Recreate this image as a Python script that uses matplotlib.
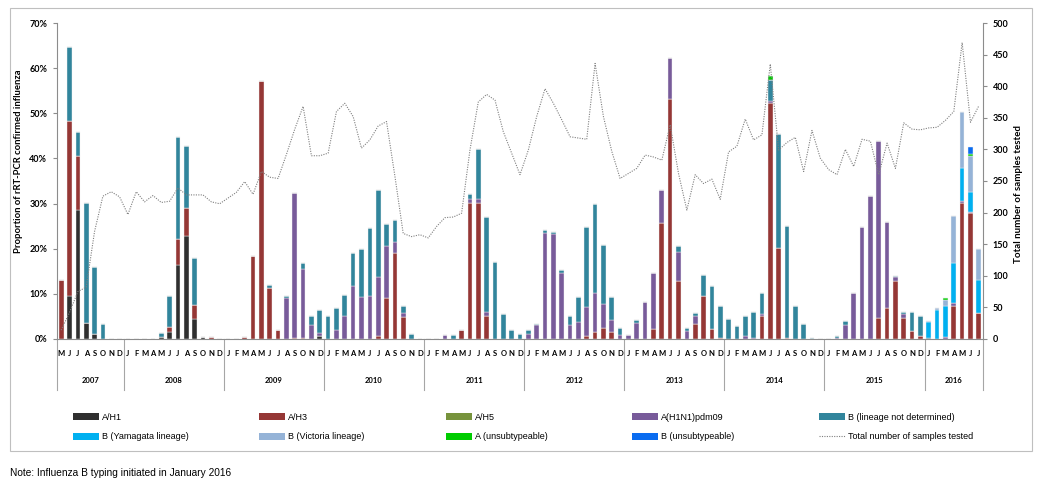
import numpy as np
import matplotlib.pyplot as plt
import matplotlib.transforms as mtransforms
from matplotlib.ticker import FuncFormatter, MultipleLocator
from matplotlib.patches import Patch, Rectangle
from matplotlib.lines import Line2D

plt.rcParams['font.family'] = ['Lato', 'DejaVu Sans']
narrow = ['Liberation Sans Narrow', 'Liberation Sans', 'DejaVu Sans']

# categories: May 2007 .. Jul 2016
year_labels = ['2007', '2008', '2009', '2010', '2011', '2012', '2013', '2014', '2015', '2016']
year_months = ['MJJASOND', 'JFMAMJJASOND', 'JFMAMJJASOND', 'JFMAMJJASOND', 'JFMAMJJASOND',
               'JFMAMJJASOND', 'JFMAMJJASOND', 'JFMAMJJASOND', 'JFMAMJJASOND', 'JFMAMJJ']

# proportion (%) per type, one value per month
a_h1 = [0, 9.6, 28.5, 3.6, 1.1, 0, 0, 0,                          # 2007
        0, 0, 0, 0, 0.5, 1.6, 16.3, 22.9, 4.4, 0.5, 0, 0,            # 2008
        0, 0, 0, 0, 0, 0, 0, 0, 0, 0, 0, 0.6,                        # 2009
        0, 0, 0, 0, 0, 0, 0, 0, 0, 0, 0, 0,                          # 2010
        0, 0, 0, 0, 0, 0, 0, 0, 0, 0, 0, 0,                          # 2011
        0, 0, 0, 0, 0, 0, 0, 0, 0, 0, 0, 0,                          # 2012
        0, 0, 0, 0, 0, 0, 0, 0, 0, 0, 0, 0,                          # 2013
        0, 0, 0, 0, 0, 0, 0, 0, 0, 0, 0, 0,                          # 2014
        0, 0, 0, 0, 0, 0, 0, 0, 0, 0, 0, 0,                          # 2015
        0, 0, 0, 0, 0, 0, 0]                                         # 2016
a_h3 = [13.1, 38.8, 12.1, 0, 0, 0, 0, 0,
        0, 0, 0, 0, 0, 1.0, 5.8, 6.2, 3.1, 0, 0.5, 0,
        0, 0, 0.4, 18.3, 57.1, 11.4, 2.0, 0, 0.3, 0.3, 0, 0,
        0, 0, 0, 0, 0, 0, 0.7, 9.0, 19.0, 4.8, 0, 0,
        0, 0, 0, 0, 2.0, 30.1, 30.1, 5.0, 0, 0, 0, 0,
        0, 0, 0, 0, 0, 0, 0, 0.7, 1.5, 2.4, 1.5, 0,
        0, 0, 0, 2.3, 25.8, 53.1, 12.9, 0, 3.3, 9.6, 2.3, 0.3,
        0, 0, 0, 0, 5.1, 52.3, 20.1, 0.3, 0, 0, 0, 0,
        0, 0, 0, 0, 0, 0, 4.7, 6.9, 12.9, 4.7, 1.8, 0.7,
        0, 0, 0, 7.4, 30.1, 27.9, 5.8]
a_h5 = [0] * 111
a_pdm09 = [0, 0, 0, 0, 0, 0, 0, 0,
           0, 0, 0, 0, 0, 0, 0, 0, 0, 0, 0, 0,
           0, 0, 0, 0, 0, 0, 0, 9.0, 32.1, 15.1, 3.0, 0.8,
           0, 2.1, 5.0, 11.8, 9.2, 9.5, 13.1, 11.5, 2.4, 1.0, 0, 0,
           0, 0, 0.9, 0, 0, 0.9, 0.9, 0.9, 0, 0, 0, 0,
           1.1, 3.1, 23.4, 23.2, 14.6, 3.1, 3.7, 6.3, 8.6, 5.3, 2.7, 0.9,
           0.8, 3.6, 8.1, 12.3, 7.2, 9.1, 6.3, 1.8, 1.7, 0, 0, 0,
           0, 0, 0.7, 0.3, 0.4, 0.5, 0, 0, 0, 0, 0, 0,
           0, 0.3, 3.1, 10.3, 24.7, 31.7, 39.1, 19.0, 0.8, 0.8, 0, 0,
           0, 0, 0.5, 0.6, 0.4, 0.3, 0]
b_lineage = [0, 16.2, 5.2, 26.5, 14.8, 3.3, 0, 0,
             0, 0, 0, 0, 0.9, 6.9, 22.7, 13.7, 10.5, 0, 0, 0,
             0, 0, 0, 0, 0, 0.6, 0, 0.5, 0, 1.5, 2.0, 5.0,
             5.0, 4.8, 4.8, 7.2, 10.8, 15.0, 19.1, 5.0, 5.0, 1.6, 1.1, 0,
             0, 0, 0, 0.9, 0, 1.1, 11.1, 21.1, 17.0, 5.5, 2.0, 1.0,
             0.9, 0.2, 0.8, 0.5, 0.7, 1.9, 5.7, 17.7, 19.8, 13.1, 5.0, 1.5,
             0, 0.5, 0, 0, 0, 0, 1.3, 0.6, 0.7, 4.6, 9.5, 6.9,
             4.4, 2.9, 4.4, 5.7, 4.6, 4.6, 25.3, 24.8, 7.4, 3.3, 0.2, 0,
             0, 0.4, 0.9, 0, 0, 0, 0, 0, 0.3, 0.4, 4.1, 4.4,
             0.3, 0, 0, 0, 0, 0, 0]
# B lineage typing only from January 2016
b_yamagata = [0] * 104 + [3.4, 6.4, 6.8, 8.9, 7.3, 4.3, 7.3]
b_victoria = [0] * 104 + [0.3, 0.4, 1.3, 10.4, 12.4, 8.1, 6.9]
a_unsub = [0] * 85 + [0.8] + [0] * 18 + [0, 0, 0.5, 0, 0, 0.4, 0]
b_unsub = [0] * 104 + [0, 0, 0, 0, 0, 1.5, 0]

total_tested = [14, 42, 75, 82, 170, 226, 233, 225,
                197, 233, 217, 227, 216, 218, 239, 228, 228, 228, 217, 214,
                223, 232, 249, 229, 265, 256, 254, 292, 332, 368, 290, 290,
                294, 360, 373, 352, 302, 315, 337, 344, 258, 167, 162, 165,
                160, 178, 192, 193, 199, 299, 375, 387, 378, 328, 294, 260,
                299, 352, 396, 373, 347, 320, 318, 316, 436, 352, 297, 254,
                262, 270, 291, 288, 283, 339, 262, 204, 260, 246, 253, 221,
                296, 305, 348, 315, 323, 435, 299, 311, 319, 265, 330, 286,
                268, 260, 300, 273, 316, 313, 260, 310, 270, 342, 332, 331,
                334, 335, 346, 360, 469, 343, 369]

series = [(a_h1, 'A/H1', '#2f2f2f'),
          (a_h3, 'A/H3', '#953735'),
          (a_h5, 'A/H5', '#77933c'),
          (a_pdm09, 'A(H1N1)pdm09', '#785b9a'),
          (b_lineage, 'B (lineage not determined)', '#31859c'),
          (b_yamagata, 'B (Yamagata lineage)', '#00b0f0'),
          (b_victoria, 'B (Victoria lineage)', '#95b3d7'),
          (a_unsub, 'A (unsubtypeable)', '#00cc00'),
          (b_unsub, 'B (unsubtypeable)', '#0a6cf0')]

month_labels = [m for ms in year_months for m in ms]
x = np.arange(len(month_labels))
grey = '#8c8c8c'

fig = plt.figure(figsize=(10.51, 4.87), dpi=100)
ax = fig.add_axes([57 / 1051, 148 / 487, 926 / 1051, 316 / 487])

bottom = np.zeros(len(x))
for vals, lab, col in series:
    vals = np.array(vals, dtype=float)
    ax.bar(x, vals, 0.56, bottom=bottom, color=col, edgecolor='#f2f2f2', linewidth=0.3)
    bottom += vals

ax.set_xlim(-0.5, len(x) - 0.5)
ax.set_ylim(0, 70)
ax.yaxis.set_major_locator(MultipleLocator(10))
ax.yaxis.set_major_formatter(FuncFormatter(lambda v, p: '%d%%' % v))
ax.set_xticks(x)
ax.set_xticklabels(month_labels, fontsize=5.5, fontweight='bold')
ax.tick_params(axis='x', length=0, pad=8)
ax.tick_params(axis='y', direction='out', length=3, color=grey, labelsize=6.5, pad=4)
for t in ax.get_yticklabels():
    t.set_fontweight('bold')
for s in ['top', 'right']:
    ax.spines[s].set_visible(False)
for s in ['left', 'bottom']:
    ax.spines[s].set_color(grey)
    ax.spines[s].set_linewidth(0.8)
ax.set_ylabel('Proportion of rRT-PCR confirmed influenza', fontsize=6.85, fontweight='bold')
ax.yaxis.set_label_coords(-0.037, 0.563)

# total samples line on the right axis
ax2 = ax.twinx()
ax2.plot(x, total_tested, color='#7f7f7f', lw=0.8, ls=(0, (1, 1.2)))
ax2.set_ylim(0, 500)
ax2.yaxis.set_major_locator(MultipleLocator(50))
ax2.tick_params(axis='y', direction='out', length=3, color=grey, labelsize=6.5, pad=4)
for t in ax2.get_yticklabels():
    t.set_fontweight('bold')
for s in ['top', 'left', 'bottom']:
    ax2.spines[s].set_visible(False)
ax2.spines['right'].set_color(grey)
ax2.spines['right'].set_linewidth(0.8)
ax2.set_ylabel('Total number of samples tested', fontsize=7, fontweight='bold')
ax2.yaxis.set_label_coords(1.033, 0.46)

# year groups under the month letters
trans = mtransforms.blended_transform_factory(ax.transData, ax.transAxes)
edges = np.concatenate([[0], np.cumsum([len(ms) for ms in year_months])]) - 0.5
for b in edges:
    ax.plot([b, b], [0, -0.161], transform=trans, clip_on=False, color='#a6a6a6', lw=0.8)
for lab, lo, hi in zip(year_labels, edges[:-1], edges[1:]):
    ax.text((lo + hi) / 2, -0.13, lab, transform=trans, ha='center', va='center',
            fontsize=5.5, fontweight='bold')

# outer frame
fig.add_artist(Rectangle((10 / 1051, 36 / 487), 1022 / 1051, 443 / 487, transform=fig.transFigure,
                         fill=False, ec='#bfbfbf', lw=0.8))

handles = [Patch(facecolor=col, label=lab) for vals, lab, col in series]
handles.append(Line2D([], [], color='#7f7f7f', lw=0.8, ls=(0, (1, 1.2)),
                      label='Total number of samples tested'))
col_x = [72.8, 259, 446, 632, 819]
for k in range(5):
    fig.legend(handles=[handles[k], handles[k + 5]], loc='center left',
               bbox_to_anchor=(col_x[k] / 1051, 60 / 487), frameon=False,
               prop={'family': narrow, 'size': 6.5}, handlelength=2.9, handleheight=0.8,
               handletextpad=0.35, labelspacing=1.2, borderpad=0, borderaxespad=0)

fig.text(10 / 1051, 14 / 487, 'Note: Influenza B typing initiated in January 2016',
         fontsize=7.3, family=narrow, ha='left', va='center')

fig.savefig('out.png', dpi=100)
